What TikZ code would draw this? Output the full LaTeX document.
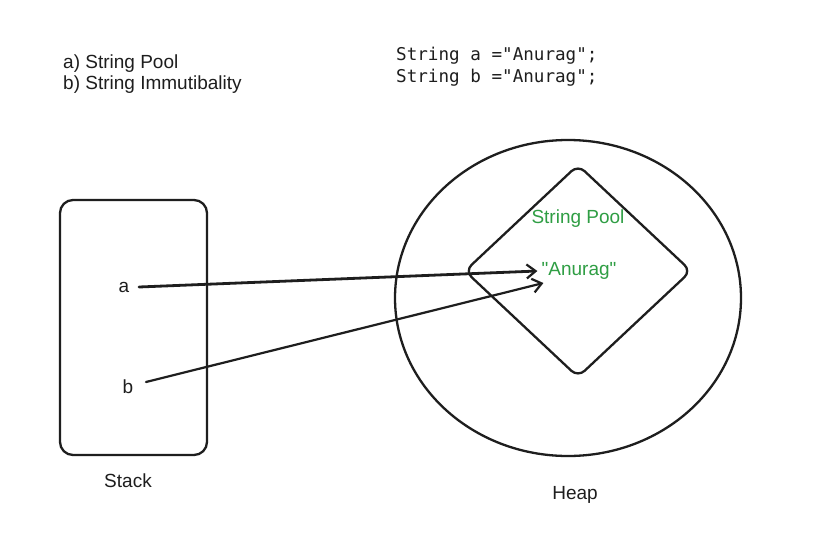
\documentclass[tikz,border=0pt]{standalone}
\usepackage{fontspec}
\setmainfont{Liberation Sans}[Ligatures=TeXOff]
\setmonofont{DejaVu Sans Mono}
\usetikzlibrary{arrows.meta}
\definecolor{pgreen}{HTML}{2F9E44}
\definecolor{ink}{HTML}{1E1E1E}
\tikzset{
  shape line/.style={draw=ink, line width=2.3pt},
  lbl/.style={font=\fontsize{19}{21.5}\selectfont, text=ink, inner sep=0pt},
  glbl/.style={font=\fontsize{19}{21.5}\selectfont, text=pgreen, inner sep=0pt},
  codetxt/.style={font=\ttfamily\fontsize{17.6}{22}\selectfont, text=ink, inner sep=0pt, align=left},
  ptr/.style={draw=ink, line cap=round, -{Straight Barb[length=9pt,width=14pt,line width=2.2pt]}},
}
\begin{document}
\begin{tikzpicture}[x=1pt,y=-1pt]
\useasboundingbox (0,0) rectangle (822,557);
\fill[white] (0,0) rectangle (822,557);
% top-left notes
\node[lbl, anchor=west, align=left] (notes) at (63,74) {a) String Pool\\b) String Immutibality};
% code
\node[codetxt, anchor=west] (code) at (396,67) {String a =\symbol{34}Anurag\symbol{34};\\String b =\symbol{34}Anurag\symbol{34};};
% stack
\draw[shape line, rounded corners=13pt] (60,200) rectangle (207,455);
\node[lbl] (stacklbl) at (128,481) {Stack};
\node[lbl] (a) at (124,287) {a};
\node[lbl] (b) at (128,387) {b};
% heap
\draw[shape line] (568,298) ellipse [x radius=173, y radius=158];
\node[lbl] (heaplbl) at (575,495) {Heap};
% pool diamond
\draw[shape line, rounded corners=9pt] (578,165) -- (691,271) -- (578,377) -- (465,271) -- cycle;
\node[glbl] (pool) at (578,219) {String Pool};
\node[glbl] (anurag) at (579,271) {\symbol{34}Anurag\symbol{34}};
% pointers
\coordinate (astart) at (139,287);
\coordinate (bstart) at (146,382);
\draw[ptr, line width=2.8pt] (astart) -- ([xshift=-4pt]anurag.west);
\draw[ptr, line width=2.2pt] (bstart) -- ([xshift=2pt,yshift=-12pt]anurag.west);
\end{tikzpicture}
\end{document}
